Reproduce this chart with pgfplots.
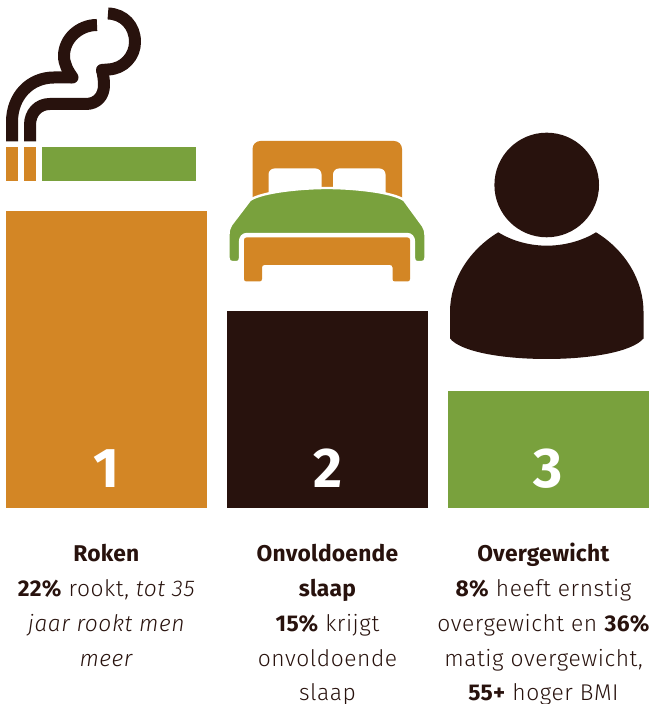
\documentclass[border=0pt]{standalone}
\usepackage{fontspec}
\setmainfont{Fira Sans Light}[BoldFont={Fira Sans Bold},ItalicFont={Fira Sans Light Italic},LetterSpace=2.5,BoldFeatures={LetterSpace=1}]
\usepackage{pgfplots}
\pgfplotsset{compat=1.18}
\definecolor{oranje}{HTML}{D38625}
\definecolor{bruin}{HTML}{28120D}
\definecolor{groen}{HTML}{79A13D}
\newcommand{\lbl}[3]{\node[anchor=base,text=bruin,inner sep=0pt,font=\fontsize{11.4pt}{13pt}\selectfont] at (#1,#2) {#3};}
\begin{document}
\begin{tikzpicture}
\useasboundingbox (0,0) rectangle (326pt,352pt);
\begin{axis}[
    at={(0,0)}, anchor=south west,
    width=326pt, height=352pt, scale only axis,
    xmin=0, xmax=652, ymin=-196, ymax=508,
    axis lines=none, clip=false
]
    % bar heights in px above the common baseline
    \addplot[ybar, bar width=100.5pt, bar shift=0pt, fill=oranje, draw=none] coordinates {(106.5,297)};
    \addplot[ybar, bar width=100.5pt, bar shift=0pt, fill=bruin, draw=none] coordinates {(327.5,197)};
    \addplot[ybar, bar width=100.5pt, bar shift=0pt, fill=groen, draw=none] coordinates {(548.5,117)};
\end{axis}
% everything below in reference pixels
\begin{scope}[shift={(0pt,352pt)}, x=0.5pt, y=-0.5pt]
    % rank numbers
    \foreach \xx/\nn in {106.5/1, 327.5/2, 548.5/3}
        \node[anchor=base,text=white,inner sep=0pt,font=\fontsize{28pt}{30pt}\selectfont\bfseries] at (\xx,488) {\nn};
    % cigarette
    \fill[oranje] (6,147) rectangle (18,181);
    \fill[oranje] (24,147) rectangle (36,181);
    \fill[groen] (41.5,147) rectangle (196,181);
    % smoke
    \begin{scope}[draw=bruin, line width=6pt, line join=round]
        \draw (12,141.5) -- (12,122) .. controls (12,96) and (30,77.5) .. (54,77.5) -- (72,77.5);
        \draw (97,25) .. controls (79,25) and (64,39) .. (64,56) .. controls (64,64) and (68,71) .. (72.5,77.5);
        \draw (30,141.5) -- (30,125) .. controls (30,113) and (38,104) .. (50,104) -- (86,104) .. controls (97,104) and (104,96) .. (104,85) .. controls (104,79) and (103,74) .. (102,70);
        \draw (102,70) -- (108,69.5) .. controls (124,69) and (135,56) .. (135,42) .. controls (135,26) and (124,14) .. (108,13.5);
    \end{scope}
    \fill[bruin] (72.5,77.5) circle[radius=6];
    \fill[bruin] (102,70) circle[radius=6];
    % bed
    \fill[oranje,rounded corners=4pt] (252.5,215) -- (252.5,141) -- (402,141) -- (402,215) -- cycle;
    \fill[white,rounded corners=3pt] (268.5,200) -- (268.5,168.5) -- (321.5,168.5) -- (321.5,200) -- cycle;
    \fill[white,rounded corners=3pt] (333,200) -- (333,168.5) -- (385.5,168.5) -- (385.5,200) -- cycle;
    \fill[groen, draw=white, line width=1.2pt, line join=round]
        (231,225) -- (250,200) .. controls (262,192) and (300,188) .. (327,188) .. controls (354,188) and (392,192) .. (404,200)
        -- (423,226) .. controls (425,229) and (425.5,232) .. (425.5,235) -- (425.5,258) .. controls (425.5,261) and (424,262) .. (422,262)
        -- (417,262) .. controls (415,262) and (414,261) .. (414,258) -- (414,242) .. controls (414,237) and (411,234) .. (407,234)
        -- (247,234) .. controls (243,234) and (240,237) .. (240,242) -- (240,258) .. controls (240,261) and (239,262) .. (237,262)
        -- (232,262) .. controls (230,262) and (228.5,261) .. (228.5,258) -- (228.5,235) .. controls (228.5,231) and (229,228) .. (231,225) -- cycle;
    \fill[oranje,rounded corners=1.2pt] (244,237.5) -- (410,237.5) -- (410,281.5) -- (392.5,281.5) -- (392.5,265) -- (262,265) -- (262,281.5) -- (244,281.5) -- cycle;
    % person
    \fill[bruin] (546.7,185) circle[radius=52.3];
    \fill[bruin] (498.3,232.3) .. controls (512,241) and (530,245.7) .. (546.7,245.7) .. controls (564,245.7) and (582,241) .. (596,232.3)
        .. controls (625,250) and (643.5,280) .. (643.5,312) -- (643.5,338.5)
        .. controls (632,352) and (590,359) .. (546.7,359) .. controls (503,359) and (461,352) .. (450,338.5)
        -- (450,312) .. controls (450,280) and (469,250) .. (498.3,232.3) -- cycle;
    % captions
    \lbl{106.5}{562}{\textbf{Roken}}
    \lbl{106.5}{596.5}{\textbf{22\%} rookt, \textit{tot 35}}
    \lbl{106.5}{631.5}{\textit{jaar rookt men}}
    \lbl{106.5}{666.5}{\textit{meer}}
    \lbl{327.5}{562}{\textbf{Onvoldoende}}
    \lbl{327.5}{596.5}{\textbf{slaap}}
    \lbl{327.5}{631.5}{\textbf{15\%} krijgt}
    \lbl{327.5}{666.5}{onvoldoende}
    \lbl{327.5}{700.5}{slaap}
    \lbl{543.5}{562}{\textbf{Overgewicht}}
    \lbl{543.5}{596.5}{\textbf{8\%} heeft ernstig}
    \lbl{543.5}{631.5}{overgewicht en \textbf{36\%}}
    \lbl{543.5}{666.5}{matig overgewicht,}
    \lbl{543.5}{700.5}{\textbf{55+} hoger BMI}
\end{scope}
\end{tikzpicture}
\end{document}
